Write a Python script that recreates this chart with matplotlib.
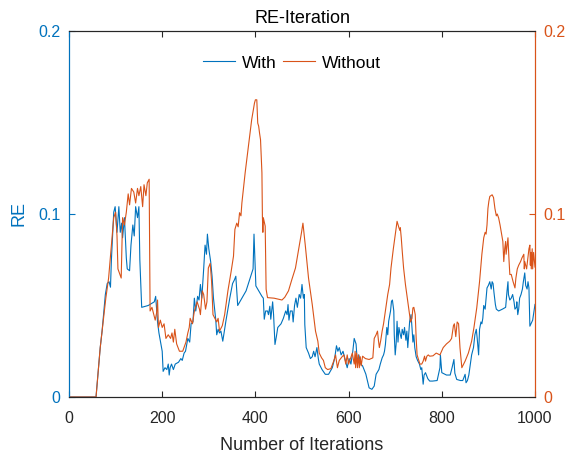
import matplotlib
matplotlib.use("Agg")
import matplotlib.pyplot as plt

# "With" series (left axis)
with_iter = [0, 58, 67, 71, 78, 82, 86, 89, 91, 96,
             99, 103, 107, 110, 113, 115, 119, 123, 125, 130,
             133, 137, 140, 143, 147, 150, 152, 156, 170, 183,
             186, 190, 193, 200, 202, 206, 210, 213, 215, 217,
             220, 224, 228, 235, 240, 243, 247, 250, 255, 259,
             262, 266, 269, 272, 276, 279, 282, 285, 289, 292,
             295, 297, 300, 304, 307, 310, 312, 315, 317, 320,
             323, 326, 330, 337, 345, 348, 351, 355, 358, 362,
             380, 395, 397, 401, 414, 417, 419, 422, 426, 428,
             431, 433, 437, 439, 442, 445, 448, 455, 460, 465,
             468, 470, 472, 475, 479, 481, 484, 487, 490, 494,
             497, 500, 503, 505, 506, 509, 514, 518, 522, 525,
             528, 532, 535, 537, 543, 550, 557, 565, 570, 574,
             577, 580, 584, 588, 592, 597, 601, 605, 609, 612,
             616, 619, 622, 626, 630, 637, 644, 650, 655, 659,
             665, 668, 672, 675, 677, 679, 682, 684, 686, 690,
             692, 694, 697, 698, 700, 702, 704, 706, 708, 711,
             713, 715, 718, 720, 723, 725, 727, 731, 734, 736,
             738, 740, 742, 745, 748, 752, 755, 757, 760, 762,
             765, 770, 774, 780, 790, 796, 797, 800, 810, 818,
             822, 826, 828, 832, 840, 845, 850, 852, 855, 858,
             862, 864, 868, 871, 874, 876, 879, 881, 884, 886,
             888, 890, 893, 895, 897, 900, 903, 906, 908, 910,
             912, 915, 917, 922, 930, 937, 940, 942, 943, 946,
             949, 952, 955, 957, 960, 961, 963, 965, 967, 970,
             973, 975, 978, 980, 983, 985, 987, 989, 995, 1000]
with_re = [0, 0, 0.027, 0.036, 0.056, 0.062, 0.063, 0.060, 0.075, 0.101,
           0.104, 0.090, 0.104, 0.090, 0.095, 0.087, 0.098, 0.076, 0.070, 0.069,
           0.083, 0.094, 0.088, 0.104, 0.098, 0.104, 0.075, 0.049, 0.050, 0.052,
           0.055, 0.041, 0.035, 0.025, 0.014, 0.016, 0.015, 0.018, 0.012, 0.016,
           0.018, 0.015, 0.018, 0.019, 0.021, 0.020, 0.024, 0.025, 0.032, 0.030,
           0.040, 0.041, 0.054, 0.047, 0.055, 0.053, 0.0615, 0.054, 0.070, 0.083,
           0.078, 0.089, 0.081, 0.074, 0.066, 0.054, 0.049, 0.042, 0.034, 0.037,
           0.035, 0.036, 0.0305, 0.042, 0.054, 0.058, 0.062, 0.064, 0.066, 0.050,
           0.058, 0.070, 0.089, 0.0607, 0.055, 0.054, 0.0425, 0.047, 0.047, 0.045,
           0.0496, 0.0425, 0.052, 0.045, 0.0287, 0.033, 0.038, 0.040, 0.043, 0.047,
           0.045, 0.0505, 0.042, 0.047, 0.047, 0.041, 0.050, 0.054, 0.049, 0.056,
           0.054, 0.0615, 0.054, 0.056, 0.0396, 0.027, 0.024, 0.021, 0.022, 0.025,
           0.022, 0.027, 0.021, 0.018, 0.015, 0.0124, 0.0124, 0.016, 0.021, 0.028,
           0.025, 0.027, 0.023, 0.025, 0.021, 0.016, 0.021, 0.018, 0.025, 0.032,
           0.029, 0.018, 0.023, 0.018, 0.017, 0.0125, 0.005, 0.0042, 0.006, 0.0124,
           0.015, 0.018, 0.0214, 0.023, 0.025, 0.0287, 0.038, 0.034, 0.0414, 0.047,
           0.0523, 0.053, 0.047, 0.034, 0.023, 0.029, 0.0414, 0.030, 0.038, 0.034,
           0.032, 0.037, 0.034, 0.038, 0.031, 0.036, 0.027, 0.0414, 0.045, 0.038,
           0.030, 0.034, 0.027, 0.022, 0.020, 0.018, 0.015, 0.016, 0.007, 0.012,
           0.0133, 0.010, 0.0087, 0.0087, 0.0090, 0.016, 0.023, 0.0133, 0.012, 0.012,
           0.016, 0.0205, 0.013, 0.0096, 0.009, 0.009, 0.0124, 0.0078, 0.009, 0.012,
           0.0196, 0.023, 0.027, 0.034, 0.037, 0.032, 0.023, 0.037, 0.041, 0.040,
           0.043, 0.050, 0.048, 0.054, 0.0596, 0.061, 0.063, 0.059, 0.063, 0.062,
           0.057, 0.0505, 0.048, 0.047, 0.048, 0.049, 0.058, 0.063, 0.056, 0.053,
           0.054, 0.056, 0.052, 0.048, 0.049, 0.052, 0.045, 0.048, 0.054, 0.056,
           0.059, 0.063, 0.0678, 0.061, 0.059, 0.063, 0.0596, 0.0387, 0.042, 0.0506]

# "Without" series (right axis)
without_iter = [0, 58, 67, 71, 79, 85, 91, 96, 100, 103,
                105, 112, 115, 119, 123, 127, 130, 134, 139, 143,
                147, 150, 154, 158, 161, 165, 168, 172, 174, 178,
                185, 188, 190, 192, 196, 200, 204, 208, 213, 218,
                221, 224, 227, 231, 237, 244, 251, 255, 258, 260,
                265, 269, 275, 280, 282, 286, 289, 293, 296, 299,
                303, 306, 309, 313, 317, 320, 323, 329, 334, 341,
                348, 353, 356, 360, 363, 366, 369, 371, 374, 378,
                385, 392, 398, 400, 403, 405, 407, 409, 411, 414,
                415, 416, 417, 421, 423, 426, 440, 457, 463, 471,
                478, 486, 493, 499, 502, 507, 514, 522, 529, 534,
                537, 542, 546, 550, 555, 562, 568, 572, 576, 580,
                586, 590, 594, 597, 600, 604, 608, 612, 614, 615,
                617, 619, 621, 623, 625, 627, 630, 636, 644, 652,
                655, 659, 662, 664, 666, 669, 672, 675, 679, 684,
                688, 691, 696, 700, 704, 708, 710, 711, 713, 715,
                718, 722, 727, 731, 733, 736, 738, 740, 743, 745,
                747, 751, 753, 757, 760, 763, 765, 768, 771, 774,
                781, 788, 796, 803, 810, 817, 821, 825, 827, 830,
                833, 836, 839, 843, 850, 857, 864, 869, 875, 881,
                886, 890, 893, 895, 897, 899, 901, 903, 908, 911,
                914, 917, 919, 922, 925, 927, 931, 933, 935, 937,
                938, 942, 944, 946, 949, 953, 957, 959, 962, 965,
                969, 972, 976, 977, 978, 980, 982, 987, 989, 990,
                991, 992, 994, 995, 997, 1000]
without_re = [0, 0, 0.027, 0.036, 0.054, 0.065, 0.083, 0.098, 0.101, 0.088,
              0.070, 0.065, 0.098, 0.094, 0.101, 0.111, 0.105, 0.114, 0.112, 0.106,
              0.114, 0.110, 0.115, 0.104, 0.116, 0.110, 0.117, 0.119, 0.047, 0.049,
              0.042, 0.046, 0.053, 0.038, 0.042, 0.038, 0.040, 0.032, 0.034, 0.032,
              0.035, 0.030, 0.037, 0.029, 0.025, 0.025, 0.030, 0.035, 0.038, 0.043,
              0.040, 0.047, 0.052, 0.048, 0.045, 0.058, 0.056, 0.048, 0.052, 0.0705,
              0.073, 0.063, 0.045, 0.043, 0.041, 0.043, 0.036, 0.039, 0.045, 0.058,
              0.0687, 0.077, 0.0916, 0.095, 0.093, 0.1007, 0.099, 0.106, 0.113, 0.1225,
              0.137, 0.1515, 0.1606, 0.1624, 0.1624, 0.1497, 0.148, 0.144, 0.1406, 0.1225,
              0.0988, 0.090, 0.098, 0.0934, 0.0589, 0.0543, 0.054, 0.053, 0.0545, 0.058,
              0.064, 0.0705, 0.081, 0.090, 0.095, 0.083, 0.065, 0.0505, 0.036, 0.0305,
              0.024, 0.0214, 0.020, 0.016, 0.015, 0.0155, 0.0196, 0.023, 0.016, 0.020,
              0.022, 0.023, 0.018, 0.023, 0.018, 0.021, 0.024, 0.018, 0.025, 0.016,
              0.024, 0.016, 0.023, 0.016, 0.022, 0.017, 0.0223, 0.021, 0.0205, 0.0214,
              0.032, 0.034, 0.036, 0.031, 0.027, 0.031, 0.036, 0.040, 0.047, 0.056,
              0.0615, 0.0705, 0.081, 0.0887, 0.096, 0.0925, 0.091, 0.0925, 0.087, 0.080,
              0.0705, 0.0614, 0.0523, 0.045, 0.041, 0.043, 0.0487, 0.049, 0.045, 0.032,
              0.023, 0.0196, 0.018, 0.018, 0.0196, 0.0223, 0.0196, 0.0223, 0.023, 0.0223,
              0.0225, 0.024, 0.023, 0.027, 0.029, 0.0305, 0.032, 0.039, 0.040, 0.033,
              0.041, 0.040, 0.027, 0.016, 0.0196, 0.024, 0.0305, 0.038, 0.0487, 0.063,
              0.078, 0.087, 0.090, 0.089, 0.094, 0.103, 0.107, 0.1096, 0.1105, 0.109,
              0.103, 0.099, 0.100, 0.0978, 0.094, 0.091, 0.085, 0.074, 0.081, 0.085,
              0.078, 0.087, 0.076, 0.0669, 0.067, 0.063, 0.0596, 0.065, 0.070, 0.072,
              0.074, 0.076, 0.078, 0.070, 0.074, 0.072, 0.070, 0.081, 0.083, 0.072,
              0.079, 0.070, 0.081, 0.070, 0.079, 0.071]

xticks = [0, 200, 400, 600, 800, 1000]
yticks = [0, 0.1, 0.2]
ytick_labels = ["0", "0.1", "0.2"]

blue = "#0072BD"
orange = "#D95319"
dark = "#262626"

plt.rcParams["font.family"] = ["Liberation Sans", "DejaVu Sans"]

fig = plt.figure(figsize=(5.74, 4.53), dpi=100)
ax = fig.add_axes([69 / 574, 56 / 453, 466 / 574, 366 / 453])
ax2 = ax.twinx()

l1, = ax.plot(with_iter, with_re, color=blue, lw=0.8, label="With")
l2, = ax2.plot(without_iter, without_re, color=orange, lw=0.8, label="Without")

for a in (ax, ax2):
    a.set_xlim(0, 1000)
    a.set_ylim(0, 0.2)
    a.set_yticks(yticks)
    a.set_yticklabels(ytick_labels)

ax.set_xticks(xticks)
ax.tick_params(axis="x", direction="in", length=4, width=0.8, colors=dark,
               labelsize=11.5, top=True, pad=10)
ax.tick_params(axis="y", direction="in", length=4, width=0.8, colors=blue,
               labelsize=11.5, pad=6)
ax2.tick_params(axis="y", direction="in", length=4, width=0.8, colors=orange,
                labelsize=11.5, pad=6)

for a in (ax, ax2):
    a.spines["top"].set_color(dark)
    a.spines["bottom"].set_color(dark)
    a.spines["left"].set_color(blue)
    a.spines["right"].set_color(orange)
    for s in a.spines.values():
        s.set_linewidth(0.8)

ax.set_xlabel("Number of Iterations", fontsize=13, color=dark, labelpad=8)
ax.set_ylabel("RE", fontsize=13, color=blue, labelpad=8)
ax.set_title("RE-Iteration", fontsize=13, color="black", pad=6)

ax2.legend([l1, l2], ["With", "Without"], loc="center",
           bbox_to_anchor=(0.4785, 0.9126), ncol=2, frameon=False, fontsize=12.5,
           handlelength=1.8, handletextpad=0.4, columnspacing=0.4,
           borderpad=0.2)

fig.savefig("out.png", dpi=100)
